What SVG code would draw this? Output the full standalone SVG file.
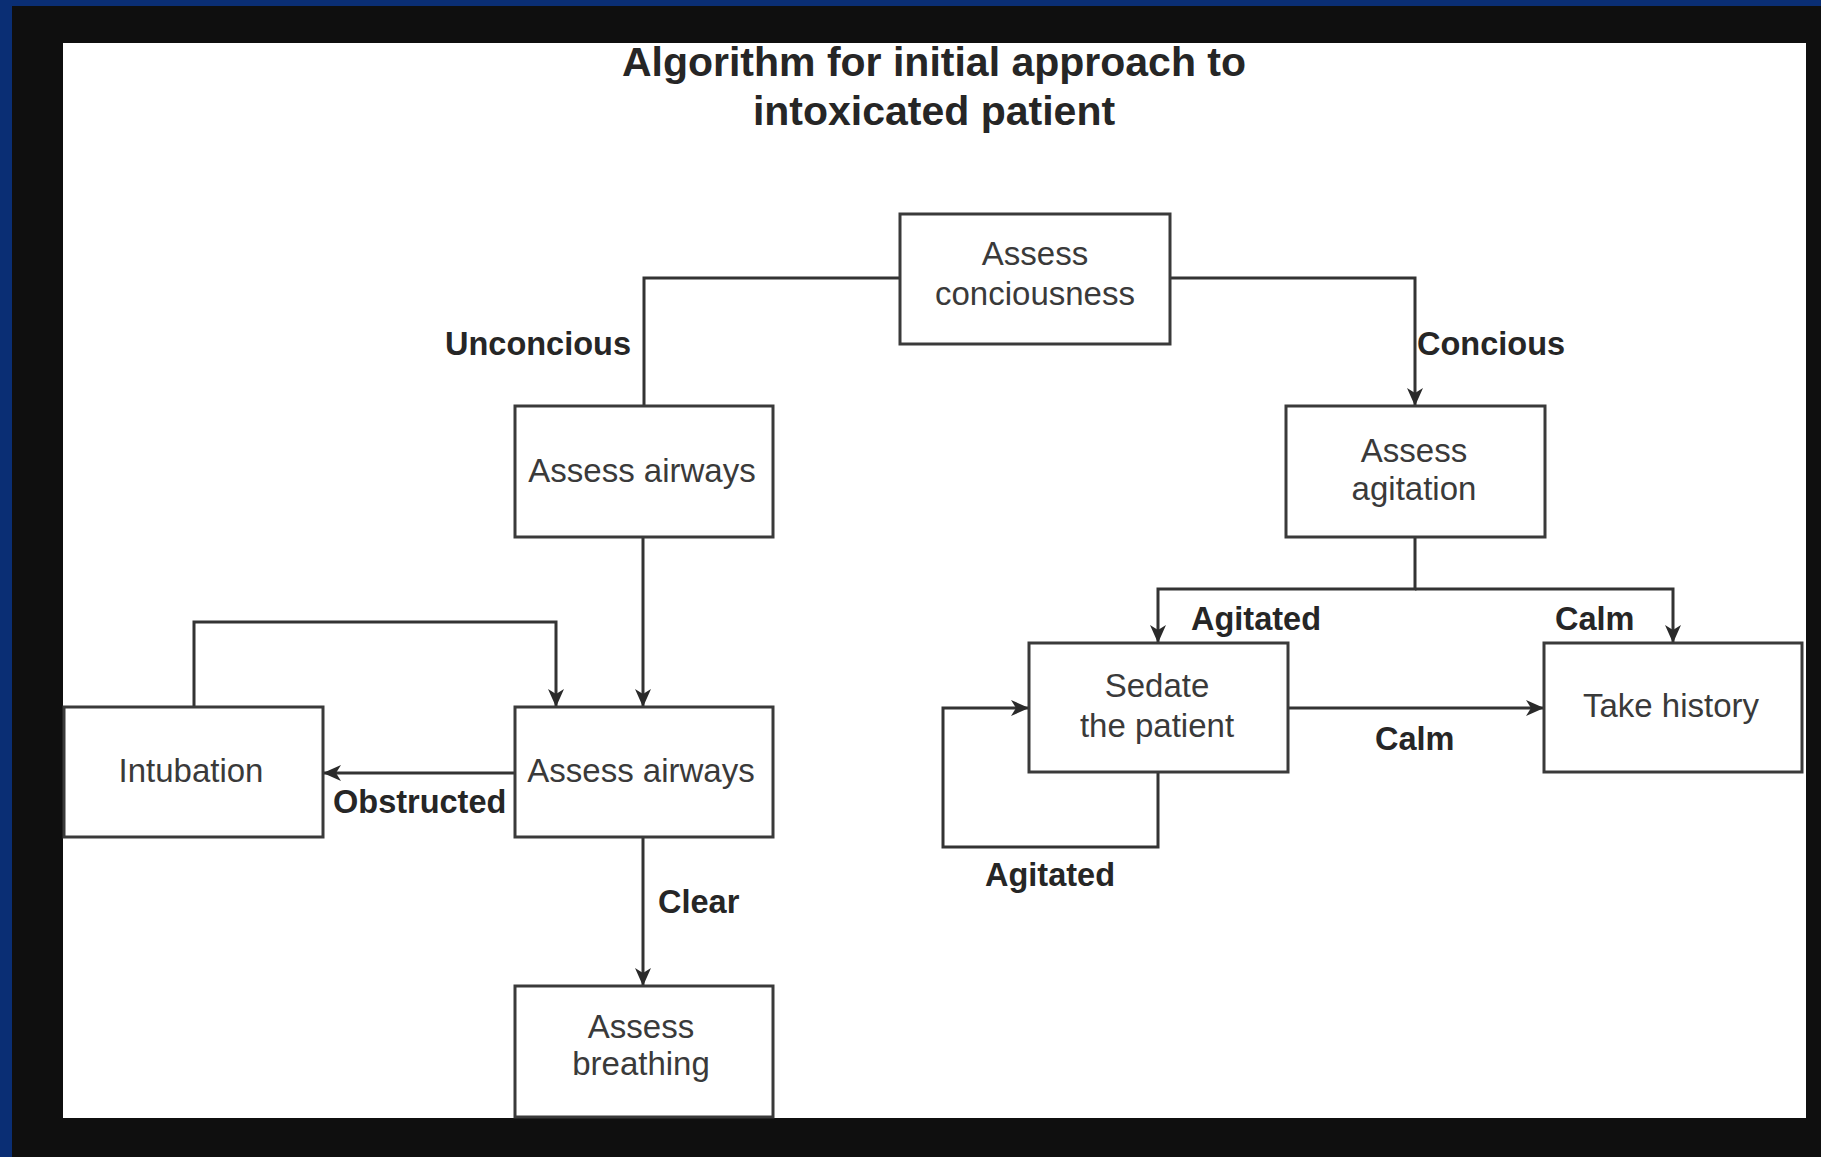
<svg xmlns="http://www.w3.org/2000/svg" width="1821" height="1157" viewBox="0 0 1821 1157">
  <defs>
    <marker id="arr" viewBox="0 0 18 18" refX="18" refY="9" markerWidth="18" markerHeight="18" markerUnits="userSpaceOnUse" orient="auto">
      <path d="M0,1 L18,9 L0,17 L5,9 Z" fill="#2a2a2a"/>
    </marker>
    <style>
      .box { fill: #ffffff; stroke: #3a3a3a; stroke-width: 3; }
      .txt { font-family: "Liberation Sans", Arial, sans-serif; font-size: 33px; fill: #3a3a3a; text-anchor: middle; }
      .lbl { font-family: "Liberation Sans", Arial, sans-serif; font-size: 32.5px; font-weight: bold; fill: #262626; }
      .title { font-family: "Liberation Sans", Arial, sans-serif; font-size: 41px; font-weight: bold; fill: #262626; text-anchor: middle; }
      .con { fill: none; stroke: #333333; stroke-width: 3; }
    </style>
  </defs>

  <rect x="0" y="0" width="1821" height="1157" fill="#0f0f0f"/>
  <rect x="0" y="0" width="1821" height="6" fill="#0a2e74"/>
  <rect x="0" y="0" width="12" height="1157" fill="#0a2e74"/>
  <rect x="63" y="43" width="1743" height="1075" fill="#ffffff"/>

  <g id="title">
    <text class="title" x="934" y="76">Algorithm for initial approach to</text>
    <text class="title" x="934" y="125">intoxicated patient</text>
  </g>

  <g id="connectors">
    <path class="con" d="M900,278 H644 V406"/>
    <path class="con" d="M1170,278 H1415 V406" marker-end="url(#arr)"/>
    <path class="con" d="M643,537 V707" marker-end="url(#arr)"/>
    <path class="con" d="M515,773 H323" marker-end="url(#arr)"/>
    <path class="con" d="M194,707 V622 H556 V707" marker-end="url(#arr)"/>
    <path class="con" d="M643,837 V986" marker-end="url(#arr)"/>
    <path class="con" d="M1415,537 V589 H1158 V643" marker-end="url(#arr)"/>
    <path class="con" d="M1415,589 H1673 V643" marker-end="url(#arr)"/>
    <path class="con" d="M1288,708 H1544" marker-end="url(#arr)"/>
    <path class="con" d="M1158,772 V847 H943 V708 H1029" marker-end="url(#arr)"/>
    <text class="lbl" x="631" y="355" text-anchor="end">Unconcious</text>
    <text class="lbl" x="1417" y="355">Concious</text>
    <text class="lbl" x="333" y="813">Obstructed</text>
    <text class="lbl" x="658" y="913">Clear</text>
    <text class="lbl" x="1191" y="630">Agitated</text>
    <text class="lbl" x="1555" y="630">Calm</text>
    <text class="lbl" x="1375" y="750">Calm</text>
    <text class="lbl" x="985" y="886">Agitated</text>
  </g>

  <g id="assess-consciousness">
    <rect class="box" x="900" y="214" width="270" height="130"/>
    <text class="txt" x="1035" y="265">Assess</text>
    <text class="txt" x="1035" y="305">conciousness</text>
  </g>
  <g id="assess-airways-1">
    <rect class="box" x="515" y="406" width="258" height="131"/>
    <text class="txt" x="642" y="482">Assess airways</text>
  </g>
  <g id="assess-agitation">
    <rect class="box" x="1286" y="406" width="259" height="131"/>
    <text class="txt" x="1414" y="462">Assess</text>
    <text class="txt" x="1414" y="500">agitation</text>
  </g>
  <g id="intubation">
    <rect class="box" x="64" y="707" width="259" height="130"/>
    <text class="txt" x="191" y="782">Intubation</text>
  </g>
  <g id="assess-airways-2">
    <rect class="box" x="515" y="707" width="258" height="130"/>
    <text class="txt" x="641" y="782">Assess airways</text>
  </g>
  <g id="assess-breathing">
    <rect class="box" x="515" y="986" width="258" height="131"/>
    <text class="txt" x="641" y="1038">Assess</text>
    <text class="txt" x="641" y="1075">breathing</text>
  </g>
  <g id="sedate">
    <rect class="box" x="1029" y="643" width="259" height="129"/>
    <text class="txt" x="1157" y="697">Sedate</text>
    <text class="txt" x="1157" y="737">the patient</text>
  </g>
  <g id="take-history">
    <rect class="box" x="1544" y="643" width="258" height="129"/>
    <text class="txt" x="1671" y="717">Take history</text>
  </g>
</svg>
